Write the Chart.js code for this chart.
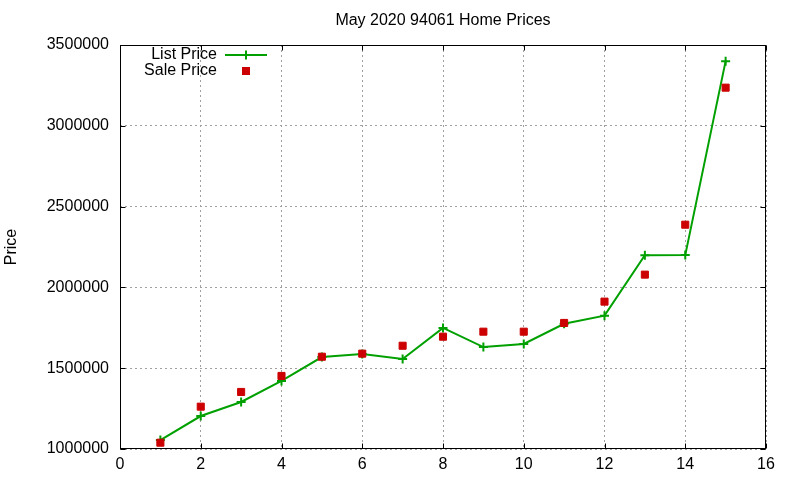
<!DOCTYPE html>
<html>
<head>
<meta charset="utf-8">
<title>May 2020 94061 Home Prices</title>
<script src="https://cdn.jsdelivr.net/npm/chart.js@4.4.1/dist/chart.umd.min.js"></script>
<style>
  html, body { margin: 0; padding: 0; background: #fff; }
</style>
</head>
<body>
<canvas id="price-chart" width="800" height="480"></canvas>
<script>
// home number on the x axis, one per sale
const homeIndex = [1, 2, 3, 4, 5, 6, 7, 8, 9, 10, 11, 12, 13, 14, 15];
const listPrices = [1055000, 1204000, 1291000, 1421000, 1569000, 1588000, 1557000, 1749000,
  1631000, 1650000, 1775000, 1825000, 2199000, 2200000, 3400000];
const salePrices = [1039000, 1262000, 1353000, 1452000, 1571000, 1590000, 1639000, 1695000,
  1726000, 1726000, 1780000, 1912000, 2079000, 2388000, 3236000];
const xTicks = [0, 2, 4, 6, 8, 10, 12, 14, 16];
const yTicks = [1000000, 1500000, 2000000, 2500000, 3000000, 3500000];

const chartTitle = 'May 2020 94061 Home Prices';
const FONT = '"Liberation Sans", Arial, sans-serif';
const GREEN = '#00a000';
const RED = '#cc0000';

const toPoints = (xs, ys) => xs.map((x, i) => ({ x: x, y: ys[i] }));

// gnuplot-ish frame: box border, inward ticks, title and legend
const gnuplotFrame = {
  id: 'gnuplotFrame',
  afterDraw(chart) {
    const { ctx, chartArea: a, scales } = chart;
    const L = Math.round(a.left) + 0.5, R = Math.round(a.right) - 0.5;
    const T = Math.round(a.top) + 0.5, B = Math.round(a.bottom) - 0.5;
    const tick = 5;

    ctx.save();
    ctx.strokeStyle = '#000';
    ctx.lineWidth = 1;
    ctx.setLineDash([]);
    ctx.strokeRect(L, T, R - L, B - T);

    ctx.beginPath();
    xTicks.forEach(v => {
      const px = Math.round(scales.x.getPixelForValue(v)) + 0.5;
      ctx.moveTo(px, B); ctx.lineTo(px, B - tick);
      ctx.moveTo(px, T); ctx.lineTo(px, T + tick);
    });
    yTicks.forEach(v => {
      const py = Math.round(scales.y.getPixelForValue(v)) + 0.5;
      ctx.moveTo(L, py); ctx.lineTo(L + tick, py);
      ctx.moveTo(R, py); ctx.lineTo(R - tick, py);
    });
    ctx.stroke();

    // title
    ctx.fillStyle = '#000';
    ctx.font = '16px ' + FONT;
    ctx.textAlign = 'center';
    ctx.textBaseline = 'middle';
    ctx.fillText(chartTitle, (a.left + a.right) / 2, 21);

    // legend, text right of the samples like gnuplot
    const textRight = a.left + 97;
    const sampleX0 = a.left + 105, sampleX1 = a.left + 147, markX = a.left + 126;
    const row1 = a.top + 10, row2 = a.top + 26;
    ctx.textAlign = 'right';
    ctx.fillText(chart.data.datasets[0].label, textRight, row1);
    ctx.fillText(chart.data.datasets[1].label, textRight, row2);

    ctx.strokeStyle = GREEN;
    ctx.lineWidth = 2;
    ctx.beginPath();
    ctx.moveTo(sampleX0, row1); ctx.lineTo(sampleX1, row1);
    ctx.moveTo(markX, row1 - 4.5); ctx.lineTo(markX, row1 + 4.5);
    ctx.stroke();

    ctx.fillStyle = RED;
    ctx.fillRect(markX - 4, row2 - 4, 8, 8);
    ctx.restore();
  }
};

const ctx = document.getElementById('price-chart');

new Chart(ctx, {
  type: 'scatter',
  data: {
    datasets: [
      {
        label: 'List Price',
        data: toPoints(homeIndex, listPrices),
        showLine: true,
        borderColor: GREEN,
        backgroundColor: GREEN,
        borderWidth: 2,
        tension: 0,
        pointStyle: 'cross',
        pointRadius: 4.5,
        pointBorderWidth: 2,
        pointBorderColor: GREEN,
        order: 1
      },
      {
        label: 'Sale Price',
        data: toPoints(homeIndex, salePrices),
        showLine: false,
        pointStyle: 'rect',
        pointRadius: 5,
        pointBorderWidth: 1,
        pointBackgroundColor: RED,
        pointBorderColor: RED,
        order: 0
      }
    ]
  },
  options: {
    responsive: false,
    animation: false,
    events: [],
    layout: { padding: { top: 45, right: 34, left: 0, bottom: 0 } },
    plugins: {
      legend: { display: false },
      title: { display: false },
      tooltip: { enabled: false }
    },
    scales: {
      x: {
        type: 'linear',
        min: 0,
        max: 16,
        afterFit: s => { s.height = 31; },
        afterBuildTicks: s => { s.ticks = xTicks.map(v => ({ value: v })); },
        ticks: { color: '#000', padding: 6, font: { family: FONT, size: 16 }, maxRotation: 0 },
        grid: { color: '#a0a0a0', lineWidth: 1, drawTicks: false },
        border: { display: false, dash: [2, 3] }
      },
      y: {
        type: 'linear',
        min: 1000000,
        max: 3500000,
        afterFit: s => { s.width = 120; },
        afterBuildTicks: s => { s.ticks = yTicks.map(v => ({ value: v })); },
        ticks: {
          color: '#000',
          padding: 11,
          font: { family: FONT, size: 16 },
          callback: v => String(v)
        },
        grid: { color: '#a0a0a0', lineWidth: 1, drawTicks: false },
        border: { display: false, dash: [2, 3] },
        title: {
          display: true,
          text: 'Price',
          color: '#000',
          font: { family: FONT, size: 16 },
          padding: { top: 2, bottom: 0 }
        }
      }
    }
  },
  plugins: [gnuplotFrame]
});
</script>
</body>
</html>
